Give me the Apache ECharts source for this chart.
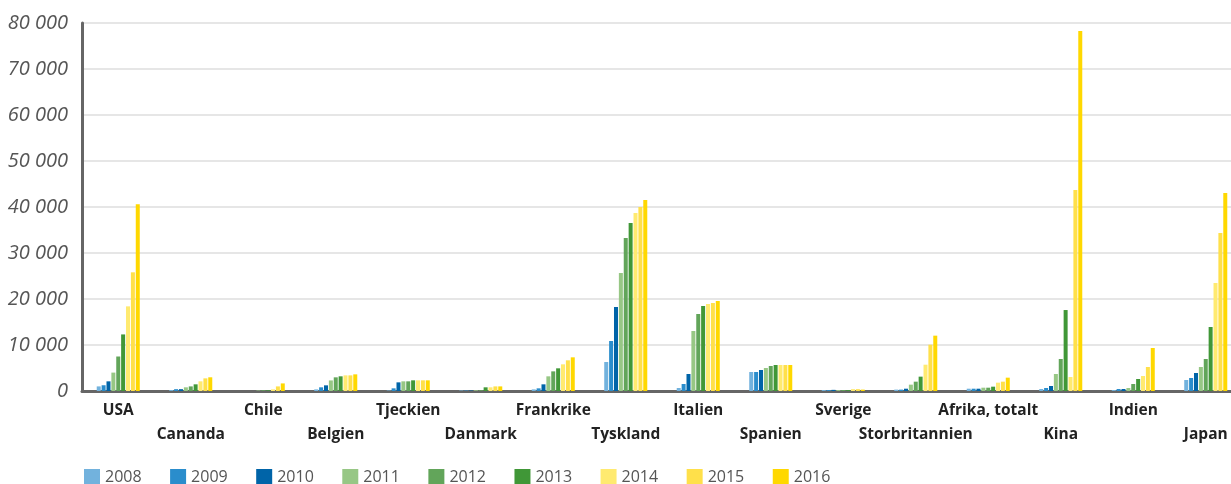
<!DOCTYPE html>
<html>
<head>
<meta charset="utf-8">
<script src="https://cdn.jsdelivr.net/npm/echarts@6/dist/echarts.min.js"></script>
<style>
  html, body { margin: 0; padding: 0; background: #fff; }
  #chart { width: 1231px; height: 484px; }
</style>
</head>
<body>
<div id="chart"></div>
<script>
const countries = ["USA", "Cananda", "Chile", "Belgien", "Tjeckien", "Danmark", "Frankrike", "Tyskland",
  "Italien", "Spanien", "Sverige", "Storbritannien", "Afrika, totalt", "Kina", "Indien", "Japan"];
const years = ["2008", "2009", "2010", "2011", "2012", "2013", "2014", "2015", "2016"];
const colors = ["#72b2dd", "#2a8dcc", "#0064a8", "#97c785", "#62a55a", "#409737", "#ffea70", "#ffe04a", "#ffd800"];
const yTicks = [0, 10000, 20000, 30000, 40000, 50000, 60000, 70000, 80000];

// one array per year, in the order of countries
const v2008 = [1000, 200, 0, 350, 100, 100, 350, 6300, 650, 4130, 200, 300, 500, 430, 200, 2390];
const v2009 = [1250, 400, 0, 800, 580, 100, 580, 10870, 1520, 4130, 200, 300, 500, 650, 430, 2830];
const v2010 = [2100, 400, 0, 1230, 1880, 100, 1450, 18260, 3700, 4570, 250, 500, 500, 1090, 430, 3910];
const v2011 = [4000, 800, 100, 2300, 2100, 150, 3190, 25650, 13040, 5000, 200, 1380, 720, 3700, 650, 5220];
const v2012 = [7500, 1000, 150, 2970, 2100, 150, 4270, 33260, 16740, 5430, 200, 2030, 720, 6960, 1520, 6960];
const v2013 = [12300, 1450, 150, 3190, 2320, 800, 4930, 36520, 18480, 5650, 200, 3120, 940, 17600, 2610, 13910];
const v2014 = [18400, 2100, 350, 3400, 2320, 800, 5800, 38700, 18910, 5650, 400, 5720, 1810, 3040, 3260, 23480];
const v2015 = [25800, 2750, 1000, 3400, 2320, 1000, 6670, 40000, 19130, 5650, 400, 10070, 2030, 43700, 5220, 34350];
const v2016 = [40600, 2980, 1650, 3620, 2320, 1000, 7320, 41520, 19560, 5650, 300, 12030, 2900, 78260, 9350, 43040];
const values = [v2008, v2009, v2010, v2011, v2012, v2013, v2014, v2015, v2016];

const fmt = (val) => String(val).replace(/\B(?=(\d{3})+(?!\d))/g, " ");

var myChart = echarts.init(document.getElementById("chart"));

const option = {
  animation: false,
  color: colors,
  textStyle: { fontFamily: "Open Sans" },
  grid: {
    left: 82,
    width: 1160,
    top: 23,
    bottom: 93,
    outerBoundsMode: "none",
  },
  legend: {
    left: 79,
    top: 464,
    icon: "rect",
    itemWidth: 16,
    itemHeight: 16,
    itemGap: 28.5,
    textStyle: { color: "#555", fontSize: 16, fontFamily: "Open Sans" },
    data: years,
  },
  xAxis: {
    type: "category",
    data: countries,
    axisLine: { lineStyle: { color: "#666", width: 3 } },
    axisTick: { show: false },
    axisLabel: {
      interval: 0,
      margin: 8,
      color: "#222",
      fontSize: 15.5,
      fontWeight: "bold",
      lineHeight: 24,
      formatter: (val, idx) => (idx % 2 ? "\n" + val : val),
    },
  },
  yAxis: {
    type: "value",
    min: yTicks[0],
    max: yTicks[yTicks.length - 1],
    interval: 10000,
    axisLine: { show: true, lineStyle: { color: "#666", width: 3 } },
    axisTick: { show: false },
    splitLine: { lineStyle: { color: "#e6e6e6", width: 2 } },
    axisLabel: {
      margin: 14,
      color: "#555",
      fontSize: 20,
      fontStyle: "italic",
      formatter: fmt,
    },
  },
  series: years.map((y, i) => ({
    name: y,
    type: "bar",
    barWidth: 4,
    barGap: "22%",
    data: values[i],
  })),
};

myChart.setOption(option);
</script>
</body>
</html>
